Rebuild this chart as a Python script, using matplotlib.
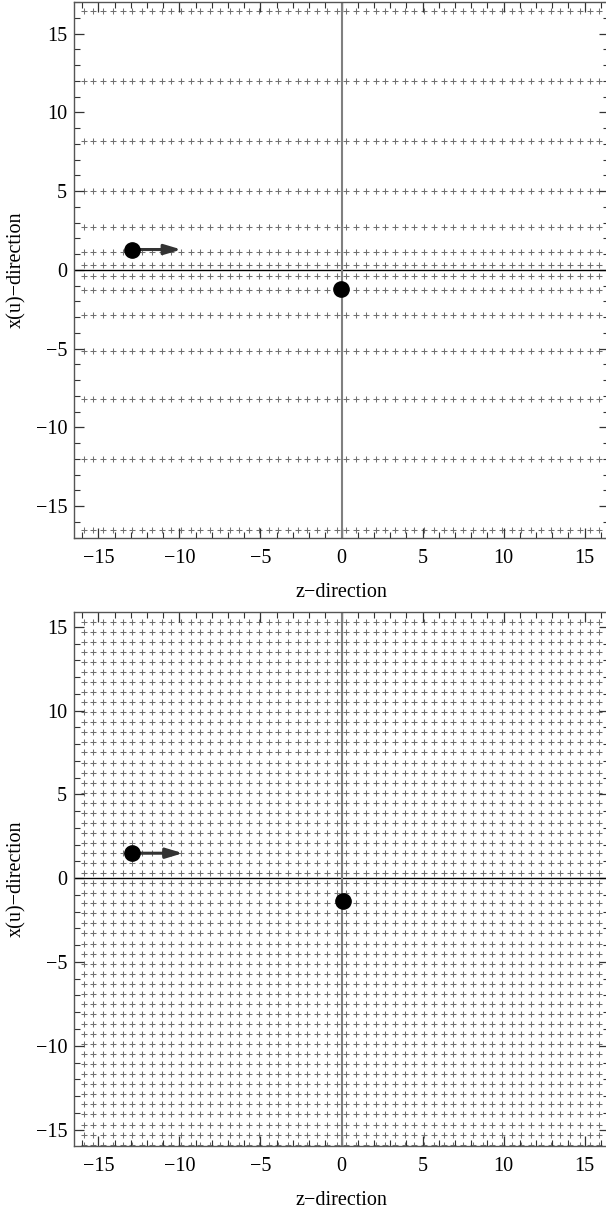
import numpy as np
import matplotlib
matplotlib.use("Agg")
import matplotlib.pyplot as plt
from matplotlib.ticker import MultipleLocator

plt.rcParams['font.family'] = ['Liberation Serif', 'DejaVu Serif']

# lattice columns (z positions), shared by both panels
cols = [-15.9, -15.3, -14.7, -14.1, -13.5, -12.9, -12.3, -11.7, -11.1, -10.5,
        -9.9, -9.3, -8.7, -8.1, -7.5, -6.9, -6.3, -5.7, -5.1, -4.5, -3.9,
        -3.3, -2.7, -2.1, -1.5, -0.9, -0.3,
        0.3, 0.9, 1.5, 2.1, 2.7, 3.3, 3.9, 4.5, 5.1, 5.7, 6.3, 6.9, 7.5,
        8.1, 8.7, 9.3, 9.9, 10.5, 11.1, 11.7, 12.3, 12.9, 13.5, 14.1, 14.7,
        15.3, 15.9]

# top panel: stretched rows in x(u)
top_rows = [16.4, 12.0, 8.2, 5.0, 2.75, 1.15, 0.3,
            -0.38, -1.27, -2.88, -5.15, -8.2, -12.0, -16.5]

# bottom panel: evenly spaced rows
bottom_rows = [15.3, 14.7, 14.1, 13.5, 12.9, 12.3, 11.7, 11.1, 10.5, 9.9,
               9.3, 8.7, 8.1, 7.5, 6.9, 6.3, 5.7, 5.1, 4.5, 3.9, 3.3, 2.7,
               2.1, 1.5, 0.9, 0.3,
               -0.3, -0.9, -1.5, -2.1, -2.7, -3.3, -3.9, -4.5, -5.1, -5.7,
               -6.3, -6.9, -7.5, -8.1, -8.7, -9.3, -9.9, -10.5, -11.1, -11.7,
               -12.3, -12.9, -13.5, -14.1, -14.7, -15.3, -15.9]

# moving particle (with arrow) and static particle
top_moving = (-12.93, 1.29)
top_arrow_tip = -9.88
top_static = (-0.05, -1.19)

bottom_moving = (-12.9, 1.49)
bottom_arrow_tip = -9.78
bottom_static = (0.08, -1.35)

W, H = 606, 1209
fig = plt.figure(figsize=(W / 100, H / 100), dpi=100)

left = 74 / W
width = (609 - 74) / W
ax1 = fig.add_axes([left, 1 - 537.7 / H, width, 535.7 / H])
ax2 = fig.add_axes([left, 1 - 1145.5 / H, width, 533.8 / H])


def draw_panel(ax, rows, moving, tip, static, ylim):
    zz, xx = np.meshgrid(cols, rows)
    ax.plot(zz.ravel(), xx.ravel(), linestyle='none', marker='+',
            markersize=4.5, markeredgewidth=0.75, color='#707070', zorder=1)
    ax.axhline(0, color='black', lw=1.0, zorder=2)
    ax.axvline(0, color='#808080', lw=1.5, zorder=2)
    ax.annotate('', xy=(tip, moving[1]), xytext=moving,
                arrowprops=dict(arrowstyle='-|>,head_length=1.0,head_width=0.3',
                                color='#333333', lw=2.2, shrinkA=0, shrinkB=0),
                zorder=3)
    ax.plot([moving[0], static[0]], [moving[1], static[1]], linestyle='none',
            marker='o', markersize=11, color='black', zorder=4)

    ax.set_xlim(-16.5, 16.5)
    ax.set_ylim(*ylim)
    ax.xaxis.set_major_locator(MultipleLocator(5))
    ax.xaxis.set_minor_locator(MultipleLocator(1))
    ax.yaxis.set_major_locator(MultipleLocator(5))
    ax.yaxis.set_minor_locator(MultipleLocator(1))
    ax.tick_params(which='both', direction='in', top=True, right=True,
                   color='#333333', labelsize=14.5)
    ax.tick_params(axis='x', which='both', pad=8)
    ax.tick_params(axis='y', which='both', pad=5)
    ax.tick_params(which='major', length=7, width=0.9)
    ax.tick_params(which='minor', length=4, width=0.8)
    for s in ax.spines.values():
        s.set_color('#555555')
        s.set_linewidth(1.0)
    ax.set_xlabel('z\u2212direction', fontsize=14.5, labelpad=11)
    ax.set_ylabel('x(u)\u2212direction', fontsize=14.5, labelpad=7)


draw_panel(ax1, top_rows, top_moving, top_arrow_tip, top_static, (-17, 17))
draw_panel(ax2, bottom_rows, bottom_moving, bottom_arrow_tip, bottom_static,
           (-15.95, 15.9))

fig.savefig('out.png', dpi=100)
